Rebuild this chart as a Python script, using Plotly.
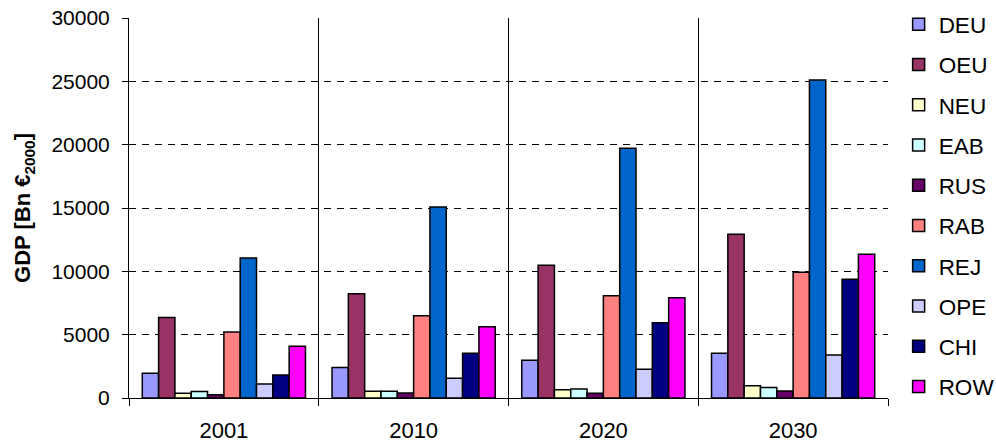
import plotly.graph_objects as go

years = ["2001", "2010", "2020", "2030"]
regions = ["DEU", "OEU", "NEU", "EAB", "RUS", "RAB", "REJ", "OPE", "CHI", "ROW"]
colors = ["#9999FF", "#993366", "#FFFFCC", "#CCFFFF", "#660066",
          "#FF8080", "#0066CC", "#CCCCFF", "#000080", "#FF00FF"]

# GDP per region and year (Bn EUR, 2000 prices)
gdp_deu = [1950, 2400, 2980, 3530]
gdp_oeu = [6350, 8240, 10480, 12920]
gdp_neu = [380, 530, 660, 970]
gdp_eab = [520, 530, 710, 820]
gdp_rus = [260, 400, 380, 550]
gdp_rab = [5210, 6500, 8080, 9920]
gdp_rej = [11050, 15070, 19710, 25100]
gdp_ope = [1100, 1550, 2260, 3400]
gdp_chi = [1820, 3530, 5950, 9370]
gdp_row = [4080, 5630, 7920, 11340]

series = [gdp_deu, gdp_oeu, gdp_neu, gdp_eab, gdp_rus,
          gdp_rab, gdp_rej, gdp_ope, gdp_chi, gdp_row]

font = "Liberation Sans, Arial, sans-serif"
fsize = 21

fig = go.Figure()
for name, vals, col in zip(regions, series, colors):
    fig.add_trace(go.Bar(
        x=years, y=vals, name=name, legendgroup=name,
        marker=dict(color=col, line=dict(color="black", width=1.5)),
    ))

fig.update_layout(
    width=996, height=445,
    margin=dict(l=129, r=108, t=18, b=47, autoexpand=False),
    paper_bgcolor="white", plot_bgcolor="white",
    barmode="group", bargap=0.14, bargroupgap=0,
    font=dict(family=font, size=fsize, color="black"),
    legend=dict(
        x=1.014, y=1.039, xanchor="left", yanchor="top",
        font=dict(family=font, size=22.5, color="black"),
        tracegroupgap=8, traceorder="grouped",
        bgcolor="rgba(0,0,0,0)", borderwidth=0,
        maxheight=440,
    ),
    xaxis=dict(
        type="category", range=[-0.5, 3.5],
        tickson="boundaries", ticks="outside", ticklen=7,
        tickcolor="black", tickwidth=1,
        showgrid=True, gridcolor="black", gridwidth=1,
        showline=True, linecolor="black", linewidth=1,
        ticklabelstandoff=13, automargin=False,
        tickfont=dict(family=font, size=22, color="black"),
    ),
    yaxis=dict(
        range=[0, 30000], dtick=5000, tickformat="d",
        ticks="outside", ticklen=6, tickcolor="black",
        showgrid=True, gridcolor="black", gridwidth=1, griddash="7px,6px",
        showline=True, linecolor="black", linewidth=1,
        zeroline=False, ticklabelstandoff=8, automargin=False,
        tickfont=dict(family=font, size=fsize, color="black"),
        title=dict(text="<b>GDP [Bn €<sub>2000</sub>]</b>",
                   font=dict(family=font, size=22, color="black"),
                   standoff=14),
    ),
)

fig.write_html("out.html")
